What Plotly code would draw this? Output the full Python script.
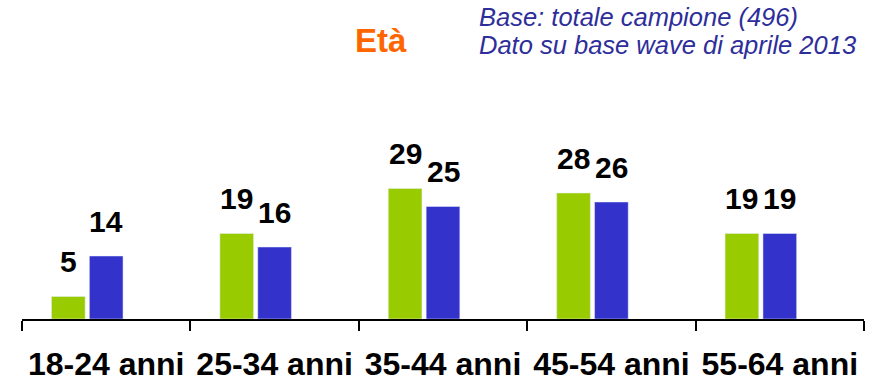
import plotly.graph_objects as go

# Age bands and the two series of percentages
categories = ["18-24 anni", "25-34 anni", "35-44 anni", "45-54 anni", "55-64 anni"]
series_green = [5, 19, 29, 28, 19]
series_blue = [14, 16, 25, 26, 19]

title_text = "Età"
note_lines = ["Base: totale campione (496)", "Dato su base wave di aprile 2013"]

GREEN = "#99CC00"
BLUE = "#3333CC"

W, H = 891, 383
ML, MR, MT, MB = 22, 27, 100, 64
plot_w = W - ML - MR
plot_h = H - MT - MB
cat_px = plot_w / len(categories)
px_per_unit = 4.5
y_max = plot_h / px_per_unit

bar_w = 0.2
offsets = {"green": -0.325, "blue": -0.1}

fig = go.Figure()
fig.add_trace(go.Bar(x=categories, y=series_green, marker_color=GREEN,
                     width=bar_w, offset=offsets["green"], showlegend=False))
fig.add_trace(go.Bar(x=categories, y=series_blue, marker_color=BLUE,
                     width=bar_w, offset=offsets["blue"], showlegend=False))

annotations = []
label_font = dict(family="Liberation Sans, Arial, sans-serif", size=30, color="black")
for vals, key in ((series_green, "green"), (series_blue, "blue")):
    shift = (offsets[key] + bar_w / 2) * cat_px
    for cat, v in zip(categories, vals):
        annotations.append(dict(
            x=cat, y=v, xref="x", yref="y", text=f"<b>{v}</b>",
            showarrow=False, xshift=shift, yanchor="middle", yshift=35,
            font=label_font,
        ))

annotations.append(dict(
    x=(381 - ML) / plot_w, y=(MT + plot_h - 41) / plot_h, xref="paper", yref="paper",
    text=f"<b>{title_text}</b>", showarrow=False, xanchor="center", yanchor="middle",
    font=dict(family="Liberation Sans, Arial, sans-serif", size=33, color="#FF6600"),
))
for line, cy in zip(note_lines, (17, 45)):
    annotations.append(dict(
        x=(477 - ML) / plot_w, y=(MT + plot_h - cy) / plot_h, xref="paper", yref="paper",
        text=f"<i>{line}</i>", showarrow=False, xanchor="left", yanchor="middle",
        font=dict(family="Liberation Sans, Arial, sans-serif", size=25.5, color="#2E2E9B"),
    ))

fig.update_layout(
    width=W, height=H,
    margin=dict(l=ML, r=MR, t=MT, b=MB, pad=0),
    plot_bgcolor="white", paper_bgcolor="white",
    annotations=annotations,
    xaxis=dict(
        type="category", range=[-0.5, len(categories) - 0.5],
        automargin=False,
        showline=True, linecolor="black", linewidth=2,
        ticks="outside", tickson="boundaries", ticklen=10, tickwidth=2, tickcolor="black",
        ticklabelstandoff=16,
        tickfont=dict(family="Liberation Sans, Arial, sans-serif", size=32, color="black"),
        showgrid=False, zeroline=False,
    ),
    yaxis=dict(range=[0, y_max], visible=False, showgrid=False, zeroline=False),
)
fig.update_xaxes(tickprefix="<b>", ticksuffix="</b>")

fig.write_html("out.html")
